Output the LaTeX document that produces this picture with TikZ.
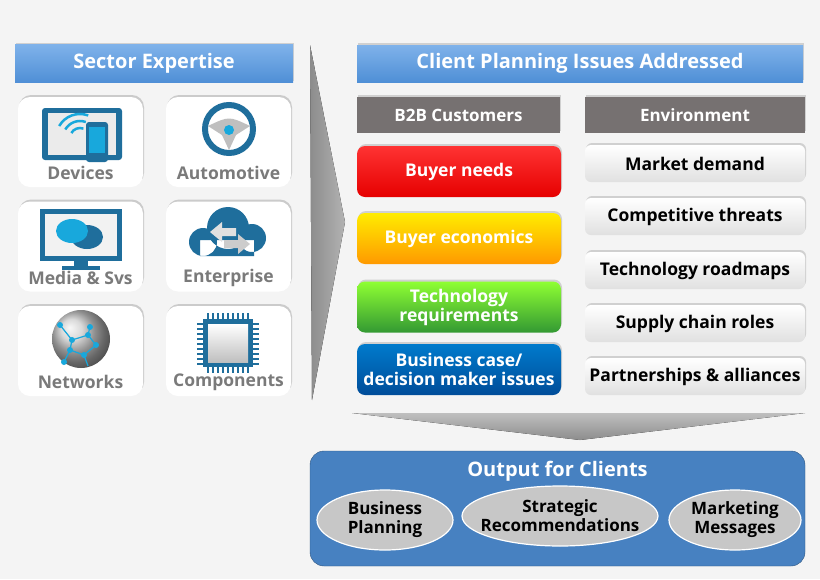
\documentclass[tikz,border=0pt]{standalone}
\usepackage{fontspec}
\setmainfont{Open Sans}
\usetikzlibrary{shadows,shapes.geometric}
\definecolor{bg}{HTML}{F4F4F4}
\definecolor{hblue}{HTML}{4F8FD6}
\definecolor{hblueT}{HTML}{7FB2EA}
\definecolor{gbox}{HTML}{767171}
\definecolor{icb}{HTML}{1F6E9C}
\definecolor{icl}{HTML}{18A8DC}
\definecolor{lbl}{HTML}{7A7A7A}
\begin{document}
\begin{tikzpicture}[x=1pt,y=-1pt,
  hdr/.style={draw=none,top color=hblueT,bottom color=hblue,minimum height=38,text=white,font=\bfseries\fontsize{20}{20}\selectfont,drop shadow={opacity=0.3,shadow xshift=1,shadow yshift=-2}},
  ghdr/.style={fill=gbox,minimum height=36,text=white,font=\bfseries\fontsize{17}{17}\selectfont,drop shadow={opacity=0.3,shadow xshift=1,shadow yshift=-2}},
  tile/.style={fill=white,rounded corners=12,minimum width=125,minimum height=90,drop shadow={opacity=0.35,shadow xshift=1,shadow yshift=-2}},
  tlab/.style={text=lbl,font=\bfseries\fontsize{17.5}{17}\selectfont},
  cbox/.style={rounded corners=8,minimum width=204,minimum height=51,text=white,align=center,font=\bfseries\fontsize{17.5}{19}\selectfont,drop shadow={opacity=0.3,shadow xshift=1,shadow yshift=-2}},
  ebox/.style={rounded corners=6,minimum width=220,minimum height=37,top color=white,bottom color=black!12,text=black,font=\bfseries\fontsize{17.5}{17}\selectfont,drop shadow={opacity=0.3,shadow xshift=1,shadow yshift=-2}},
  oell/.style={ellipse,fill=black!22,draw=white,line width=1.2,align=center,font=\bfseries\fontsize{17}{19}\selectfont,inner xsep=-40,inner ysep=-10}]
\fill[bg] (0,0) rectangle (820,579);
\useasboundingbox (0,0) rectangle (820,579);
% headers
\node[hdr,minimum width=278] (se) at (154,63.5) {Sector Expertise};
\node[hdr,minimum width=446,minimum height=37] (cp) at (580,63.5) {Client Planning Issues Addressed};
% chevron
\fill[left color=black!45,right color=black!30] (310,45) -- (345,222) -- (312,400) -- cycle;
% tiles
\foreach \n/\x/\y/\t in {dev/80.5/142/Devices,aut/228.5/142/Automotive,med/80.5/246.5/{Media \& Svs},ent/228.5/246.5/Enterprise,net/80.5/351/Networks,com/228.5/351/Components}{
  \node[tile] (\n) at (\x,\y) {};
  \node[tlab] (\n l) at (\x,\y+31) {\t};
}
% devices icon
\fill[icb,rounded corners=3] (42,108) rectangle (122,160);
\fill[black!8] (48,113) rectangle (116,155);
\fill[icb,rounded corners=3] (86,122) rectangle (108,162);
\fill[icl] (89,127) rectangle (105,153);
\foreach \r in {10,17,24}{\draw[icl,line width=2.5] (80,138) ++(-150:\r) arc (-150:-70:\r);}
% automotive icon
\draw[icb,line width=6] (229,129) circle (24);
\fill[black!25] (208,126) .. controls (229,116) .. (250,126) -- (236,135) -- (229,150) -- (222,135) -- cycle;
\fill[icl] (229,130) circle (5);
% media icon
\fill[icb] (40,209) rectangle (122,261);
\fill[black!5] (45,214) rectangle (117,256);
\fill[icb] (74,261) rectangle (88,267); \fill[icb] (62,266) rectangle (100,270);
\fill[icb] (87,237) ellipse (16 and 12);
\fill[icl] (72,231) ellipse (16 and 12);
% enterprise icon
\fill[icb] (203,242) circle (14) (228,228) circle (21) (252,238) circle (14) (200,240) rectangle (254,256);
\fill[black!12] (210,232) -- (222,222) -- (222,228) -- (236,228) -- (236,236) -- (222,236) -- (222,242) -- cycle;
\fill[black!20] (250,244) -- (238,234) -- (238,240) -- (224,240) -- (224,248) -- (238,248) -- (238,254) -- cycle;
% network icon
\shade[ball color=black!20] (81,339) circle (29);
\foreach \a/\b in {60/325,72/340,88/335,96/345,70/350,84/355,64/362,90/327}{\fill[icl] (\a,\b) circle (3);}
\draw[icl,line width=1.2] (60,325)--(72,340)--(88,335)--(96,345) (72,340)--(70,350)--(84,355)--(96,345) (70,350)--(64,362) (88,335)--(90,327) (84,355)--(88,366);
% chip icon
\foreach \i in {0,...,8}{\fill[icb] (207+\i*5,313) rectangle (209+\i*5,373); \fill[icb] (197,323+\i*5) rectangle (259,325+\i*5);}
\fill[icb] (203,319) rectangle (253,367);
\shade[top color=white,bottom color=black!25] (208,324) rectangle (248,362);
% sub headers
\node[ghdr,minimum width=203] (b2b) at (458.5,115) {B2B Customers};
\node[ghdr,minimum width=220] (env) at (695,115) {Environment};
% left colored
\node[cbox,top color=red!80!white,bottom color=red!90!black] (bn) at (459,171.5) {Buyer needs};
\node[cbox,top color=yellow!85!orange,bottom color=orange!80!yellow] (be) at (459,238.5) {Buyer economics};
\node[cbox,top color=green!55!yellow!80!white,bottom color=green!50!black!80!white] (tr) at (459,307) {Technology\\requirements};
\node[cbox,top color=blue!40!cyan!80!black,bottom color=blue!50!cyan!60!black] (bc) at (459,369.5) {Business case/\\decision maker issues};
% right
\node[ebox] (md) at (695,163.5) {Market demand};
\node[ebox] (ct) at (695,216.5) {Competitive threats};
\node[ebox] (tm) at (695,270.5) {Technology roadmaps};
\node[ebox] (sc) at (695,323.5) {Supply chain roles};
\node[ebox] (pa) at (695,376.5) {Partnerships \& alliances};
% down chevron
\fill[top color=black!25,bottom color=black!45] (352,413) -- (805,413) -- (580,440) -- cycle;
% output
\node[rounded corners=14,fill=hblue!90!black,draw=hblue!60!black,minimum width=495,minimum height=115] (out) at (557.5,508.5) {};
\node[text=white,font=\bfseries\fontsize{20}{20}\selectfont] (outt) at (557.5,471) {Output for Clients};
\node[oell,minimum width=136,minimum height=60] (bp) at (385,520) {Business\\Planning};
\node[oell,minimum width=196,minimum height=60] (sr) at (560,516) {Strategic\\Recommendations};
\node[oell,minimum width=132,minimum height=60] (mm) at (735,520) {Marketing\\Messages};
\end{tikzpicture}
\end{document}
